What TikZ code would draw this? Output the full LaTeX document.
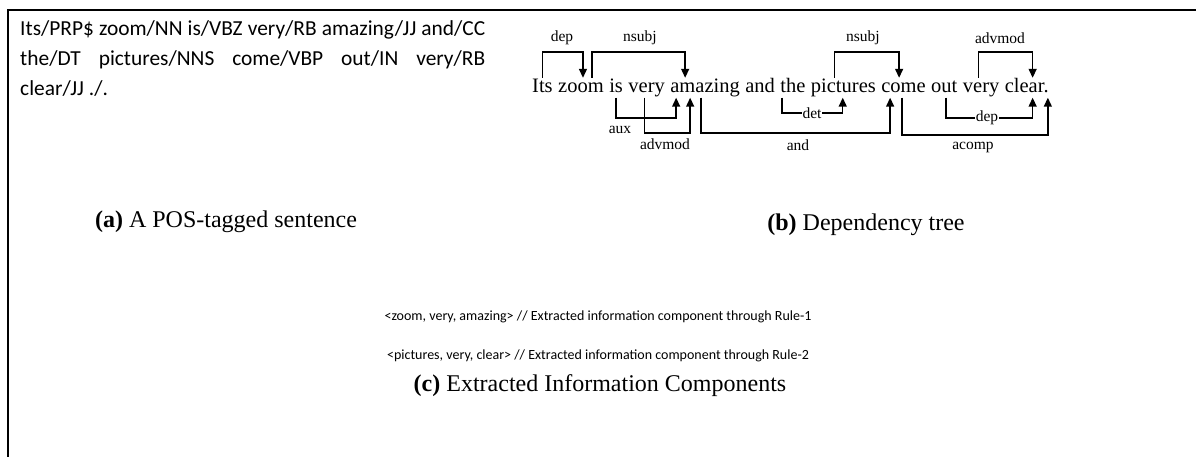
\documentclass[tikz,border=0pt]{standalone}
\usepackage{fontspec}
\usetikzlibrary{arrows.meta,calc}
\setmainfont{Liberation Serif}
\newfontfamily\calib{Carlito}
\begin{document}
\begin{tikzpicture}[x=1pt,y=-1pt,
  wordnode/.style={anchor=base west,inner sep=0pt,text height=15pt,text depth=4.5pt,font=\fontsize{20.5}{24}\selectfont},
  deparc/.style={line width=1.4pt,-{Triangle[length=9pt,width=8pt]}},
  deplab/.style={inner sep=1pt,font=\fontsize{15.5}{18}\selectfont},
  postext/.style={anchor=base west,inner sep=0pt,font=\calib\fontsize{21.4}{24}\selectfont},
  exttext/.style={inner sep=0pt,font=\calib\fontsize{14}{16}\selectfont},
  captext/.style={inner sep=0pt,font=\fontsize{24}{28}\selectfont}]
\useasboundingbox (0,0) rectangle (1196,457);
\draw[line width=2pt] (8,457) -- (8,10) -- (1196,10);
% (a)
\node[postext] (p1) at (20,36) {\makebox[465pt][s]{Its/PRP\$ zoom/NN is/VBZ very/RB amazing/JJ and/CC}};
\node[postext] (p2) at (20,66) {\makebox[465pt][s]{the/DT pictures/NNS come/VBP out/IN very/RB}};
\node[postext] (p3) at (20,96) {clear/JJ ./.};
\node[captext] (ca) at (226,222) {\textbf{(a)} A POS-tagged sentence};
% (b) words
\def\sp{5.1pt}
\node[wordnode] (w1) at (532,93) {Its};
\node[wordnode] (w2) at ([xshift=\sp]w1.base east) {zoom};
\node[wordnode] (w3) at ([xshift=\sp]w2.base east) {is};
\node[wordnode] (w4) at ([xshift=\sp]w3.base east) {very};
\node[wordnode] (w5) at ([xshift=\sp]w4.base east) {amazing};
\node[wordnode] (w6) at ([xshift=\sp]w5.base east) {and};
\node[wordnode] (w7) at ([xshift=\sp]w6.base east) {the};
\node[wordnode] (w8) at ([xshift=\sp]w7.base east) {pictures};
\node[wordnode] (w9) at ([xshift=\sp]w8.base east) {come};
\node[wordnode] (w10) at ([xshift=\sp]w9.base east) {out};
\node[wordnode] (w11) at ([xshift=\sp]w10.base east) {very};
\node[wordnode] (w12) at ([xshift=\sp]w11.base east) {clear.};
\coordinate (top) at (0,52);
% top arcs
\draw[deparc] (w1.north) -- (w1.north |- top) -| ([xshift=2pt]w2.north);
\draw[deparc] ([xshift=11pt]w2.north) -- ([xshift=11pt]w2.north |- top) -| ([xshift=15pt]w5.north west);
\draw[deparc] ([xshift=24pt]w8.north west) -- ([xshift=24pt]w8.north west |- top) -| ([xshift=18pt]w9.north west);
\draw[deparc] ([xshift=16pt]w11.north west) -- ([xshift=16pt]w11.north west |- top) -| ([xshift=28pt]w12.north west);
\node[deplab] (l1) at (562,38) {dep};
\node[deplab] (l2) at (640,38) {nsubj};
\node[deplab] (l3) at (863,38) {nsubj};
\node[deplab] (l4) at (1000,38) {advmod};
% bottom arcs
\coordinate (b118) at (0,118);
\coordinate (b133) at (0,133);
\coordinate (b113) at (0,113);
\coordinate (b135) at (0,135);
\draw[deparc] (w3.south) -- (w3.south |- b118) -| ([xshift=6pt]w5.south west);
\draw[deparc] ([xshift=-2pt]w4.south) -- ([xshift=-2pt]w4.south |- b133) -| ([xshift=20pt]w5.south west);
\draw[deparc] ([xshift=31pt]w5.south west) -- ([xshift=31pt]w5.south west |- b133) -| ([xshift=9pt]w9.south west);
\draw[deparc] ([xshift=2pt]w7.south west) -- ([xshift=2pt]w7.south west |- b113) -| ([xshift=32pt]w8.south west);
\draw[deparc] ([xshift=15pt]w10.south west) -- ([xshift=15pt]w10.south west |- b118) -| ([xshift=28pt]w12.south west);
\draw[deparc] ([xshift=21pt]w9.south west) -- ([xshift=21pt]w9.south west |- b135) -| ([xshift=-1pt]w12.south east);
\node[deplab] (l5) at (620,130) {aux};
\node[deplab] (l6) at (665,144) {advmod};
\node[deplab] (l7) at (798,145) {and};
\node[deplab,fill=white] (l8) at (812,113) {det};
\node[deplab,fill=white] (l9) at (987,118) {dep};
\node[deplab] (l10) at (973,147) {acomp};
\node[captext] (cb) at (866,225) {\textbf{(b)} Dependency tree};
% (c)
\node[exttext] (e1) at (598,317) {<zoom, very, amazing> // Extracted information component through Rule-1};
\node[exttext] (e2) at (598,356) {<pictures, very, clear> // Extracted information component through Rule-2};
\node[captext] (cc) at (600,386) {\textbf{(c)} Extracted Information Components};
\end{tikzpicture}
\end{document}
